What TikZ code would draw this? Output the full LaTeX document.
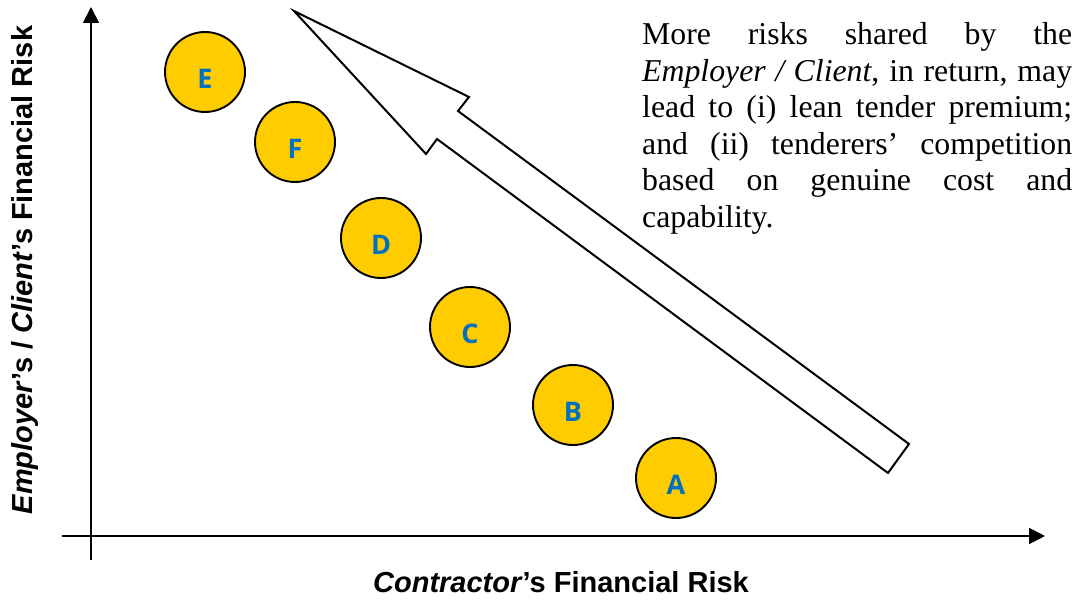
\documentclass[tikz,border=0pt]{standalone}
\usepackage{fontspec}
\setmainfont{Liberation Serif}
\newfontfamily\arialf{Liberation Sans}
\newfontfamily\letterf{Open Sans}
\usetikzlibrary{arrows.meta}
\definecolor{gold}{HTML}{FFCC00}
\definecolor{letterblue}{HTML}{0070C0}
\tikzset{
  axisline/.style={line width=1.8pt, -{Triangle[length=16pt,width=16pt]}},
  riskdot/.style={circle, draw=black, line width=1.9pt, fill=gold, minimum size=80pt, inner sep=0pt},
  dotletter/.style={font=\letterf\bfseries\fontsize{27pt}{30pt}\selectfont, text=letterblue, inner sep=0pt},
  bigarrow/.style={draw=black, line width=2pt, fill=white, line join=miter},
  axislabel/.style={font=\arialf\bfseries\fontsize{29pt}{34pt}\selectfont, inner sep=0pt}
}
\begin{document}
\begin{tikzpicture}[x=1pt, y=-1pt]
\useasboundingbox (0,0) rectangle (1085,604);
% axes
\coordinate (yb) at (91,560);
\coordinate (yt) at (91,7);
\coordinate (xl) at (62,536);
\coordinate (xr) at (1045,536);
\draw[axisline] (yb) -- (yt);
\draw[axisline] (xl) -- (xr);
% big hollow arrow
\draw[bigarrow] (294,11) -- (469,97) -- (458,111) -- (909,444) -- (888,473) -- (437,139) -- (426,154) -- cycle;
% circles
\foreach \n/\x/\y in {E/205/72, F/295/142, D/381/238, C/470/327, B/573/405, A/676/478}{
  \node[riskdot] (c\n) at (\x,\y) {};
  \node[dotletter] (l\n) at ([yshift=-7pt]c\n.center) {\n};
}
% axis labels
\node[axislabel, anchor=base] (xlab) at (561,592) {\textit{Contractor}’s Financial Risk};
\node[axislabel, anchor=base, rotate=90] (ylab) at (32,270) {\textit{Employer}’s / \textit{Client}’s Financial Risk};
% explanatory text
\node[anchor=base west, inner sep=0pt, text width=430pt, align=justify,
      font=\fontsize{31.8pt}{36.6pt}\selectfont] (note) at (642,44.5)
  {\tolerance=10000\hyphenpenalty=10000
   More risks shared by the\linebreak
   \textit{Employer / Client}, in return, may\linebreak
   lead to (i) lean tender premium;\linebreak
   and (ii) tenderers’ competition\linebreak
   based on genuine cost and\linebreak
   capability.};
\end{tikzpicture}
\end{document}
